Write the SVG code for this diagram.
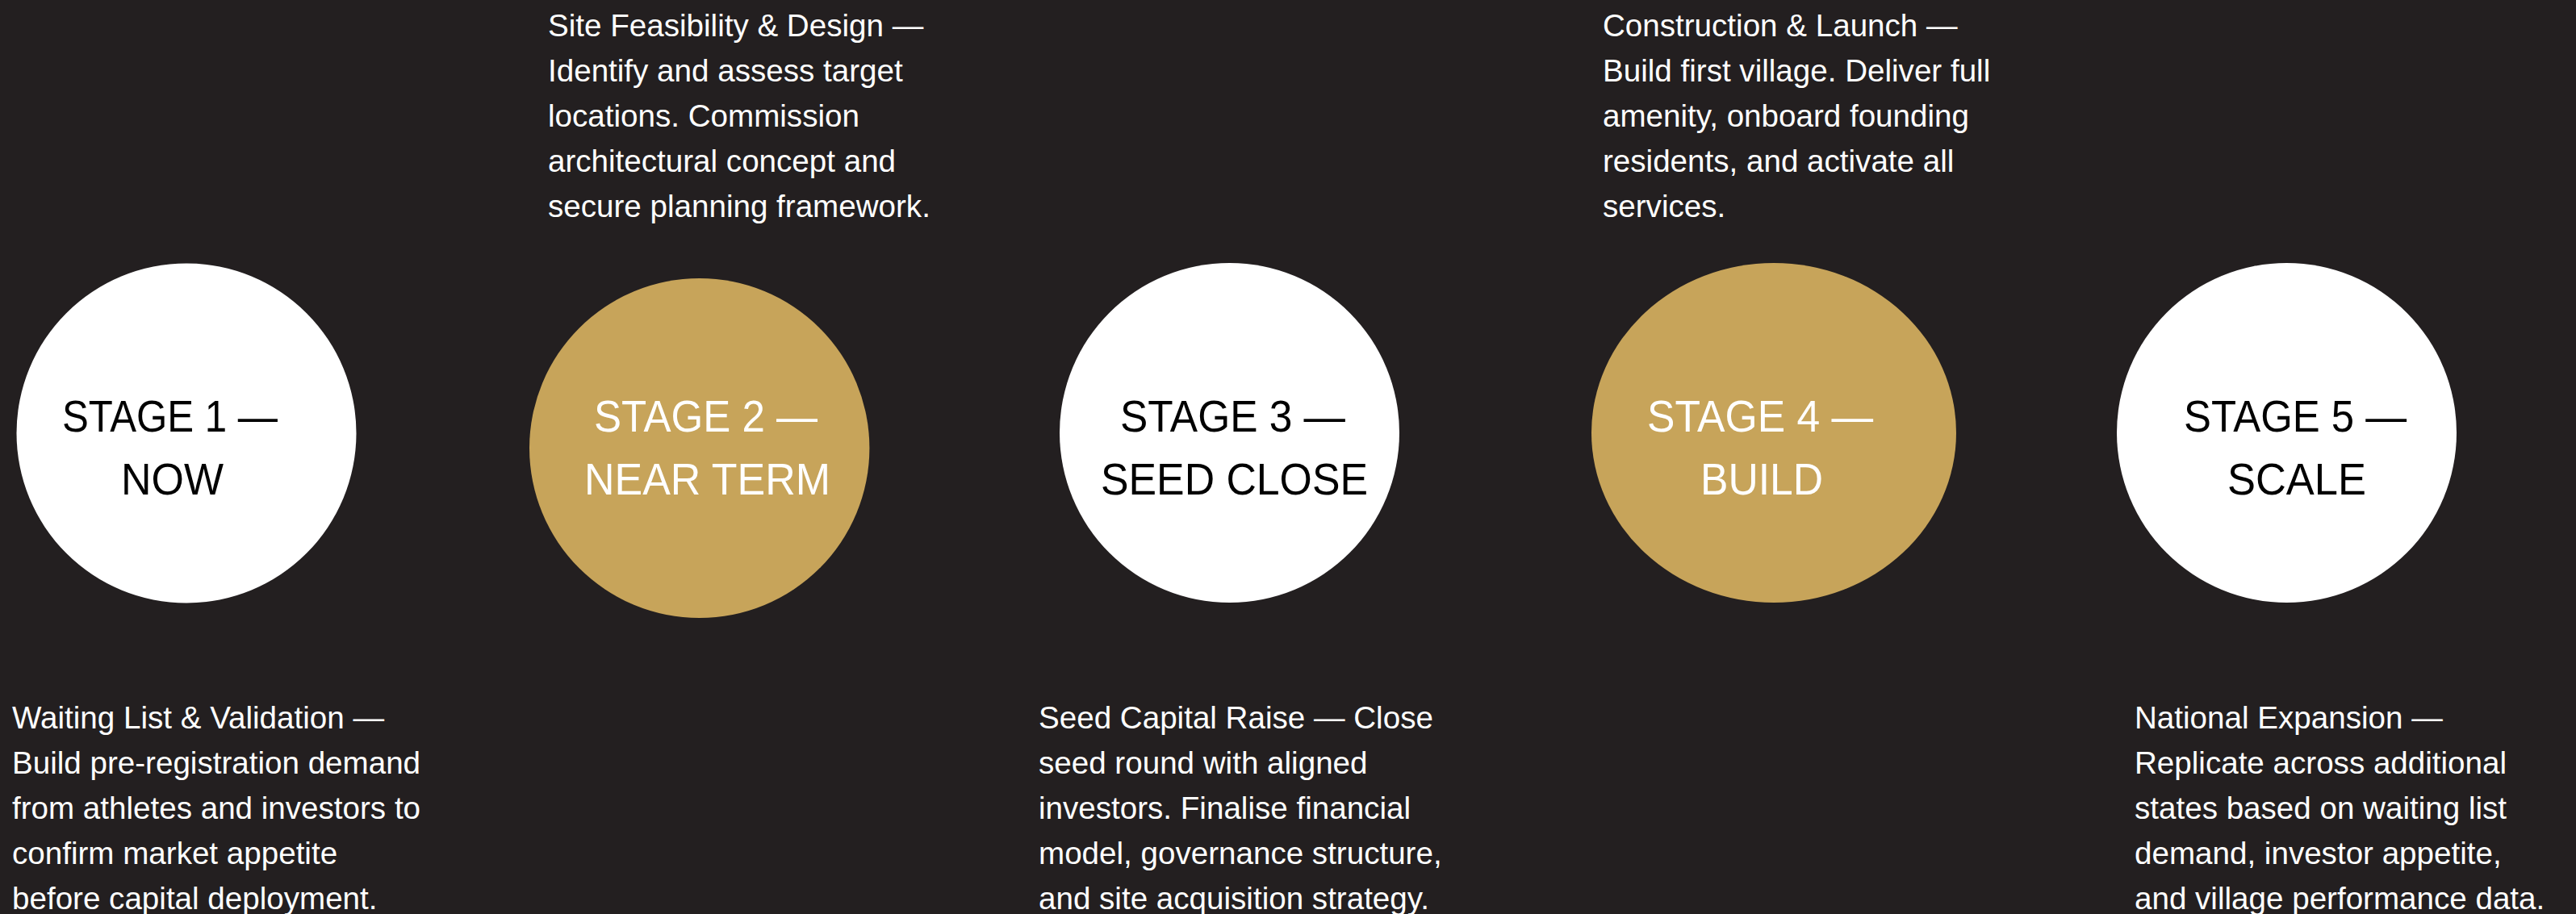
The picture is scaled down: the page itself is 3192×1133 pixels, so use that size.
<svg xmlns="http://www.w3.org/2000/svg" width="3192" height="1133" viewBox="0 0 3192 1133">
<style>
.bg{fill:#231f20}
.w{fill:#ffffff}
.g{fill:#c7a45a}
.lab{font-family:"Liberation Sans",Arial,sans-serif;font-size:55px}
.lab-d{fill:#000000}
.lab-l{fill:#ffffff}
.body{font-family:"Liberation Sans",Arial,sans-serif;font-size:38.6px;fill:#ffffff}
</style>
<rect class="bg" x="0" y="0" width="3192" height="1133"/>
<g id="connectors"></g>
<g id="stage1">
<circle class="w" cx="231" cy="537" r="210.5"/>
<text class="lab lab-d" x="77" y="535" textLength="267" lengthAdjust="spacingAndGlyphs">STAGE 1 —</text>
<text class="lab lab-d" x="150" y="613" textLength="127" lengthAdjust="spacingAndGlyphs">NOW</text>
</g>
<g id="stage2">
<ellipse class="g" cx="866.7" cy="555.5" rx="210.7" ry="210.5"/>
<text class="lab lab-l" x="736" y="535" textLength="277" lengthAdjust="spacingAndGlyphs">STAGE 2 —</text>
<text class="lab lab-l" x="724" y="613" textLength="305" lengthAdjust="spacingAndGlyphs">NEAR TERM</text>
</g>
<g id="stage3">
<circle class="w" cx="1523.5" cy="536.5" r="210.5"/>
<text class="lab lab-d" x="1388" y="535" textLength="279" lengthAdjust="spacingAndGlyphs">STAGE 3 —</text>
<text class="lab lab-d" x="1364" y="613" textLength="331" lengthAdjust="spacingAndGlyphs">SEED CLOSE</text>
</g>
<g id="stage4">
<ellipse class="g" cx="2198" cy="536.5" rx="226" ry="210.5"/>
<text class="lab lab-l" x="2041" y="535" textLength="280" lengthAdjust="spacingAndGlyphs">STAGE 4 —</text>
<text class="lab lab-l" x="2107" y="613" textLength="152" lengthAdjust="spacingAndGlyphs">BUILD</text>
</g>
<g id="stage5">
<circle class="w" cx="2833.5" cy="536.5" r="210.5"/>
<text class="lab lab-d" x="2706" y="535" textLength="276" lengthAdjust="spacingAndGlyphs">STAGE 5 —</text>
<text class="lab lab-d" x="2760" y="613" textLength="172" lengthAdjust="spacingAndGlyphs">SCALE</text>
</g>
<g id="desc1">
<text class="body" x="15" y="903">Waiting List &amp; Validation —</text>
<text class="body" x="15" y="959">Build pre-registration demand</text>
<text class="body" x="15" y="1015">from athletes and investors to</text>
<text class="body" x="15" y="1071">confirm market appetite</text>
<text class="body" x="15" y="1127">before capital deployment.</text>
</g>
<g id="desc2">
<text class="body" x="679" y="45">Site Feasibility &amp; Design —</text>
<text class="body" x="679" y="101">Identify and assess target</text>
<text class="body" x="679" y="157">locations. Commission</text>
<text class="body" x="679" y="213">architectural concept and</text>
<text class="body" x="679" y="269">secure planning framework.</text>
</g>
<g id="desc3">
<text class="body" x="1287" y="903">Seed Capital Raise — Close</text>
<text class="body" x="1287" y="959">seed round with aligned</text>
<text class="body" x="1287" y="1015">investors. Finalise financial</text>
<text class="body" x="1287" y="1071">model, governance structure,</text>
<text class="body" x="1287" y="1127">and site acquisition strategy.</text>
</g>
<g id="desc4">
<text class="body" x="1986" y="45">Construction &amp; Launch —</text>
<text class="body" x="1986" y="101">Build first village. Deliver full</text>
<text class="body" x="1986" y="157">amenity, onboard founding</text>
<text class="body" x="1986" y="213">residents, and activate all</text>
<text class="body" x="1986" y="269">services.</text>
</g>
<g id="desc5">
<text class="body" x="2645" y="903">National Expansion —</text>
<text class="body" x="2645" y="959">Replicate across additional</text>
<text class="body" x="2645" y="1015">states based on waiting list</text>
<text class="body" x="2645" y="1071">demand, investor appetite,</text>
<text class="body" x="2645" y="1127">and village performance data.</text>
</g>
</svg>
